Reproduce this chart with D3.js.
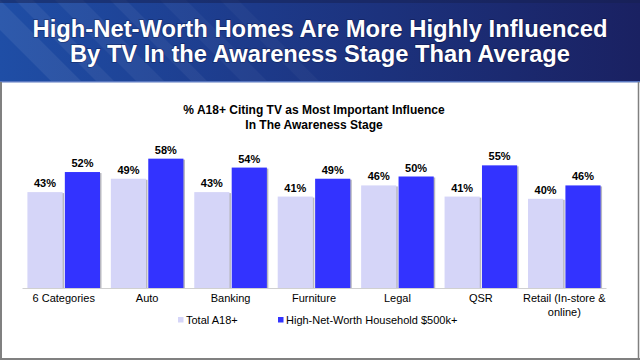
<!DOCTYPE html>
<html><head><meta charset="utf-8">
<script src="https://cdn.jsdelivr.net/npm/d3@7"></script>
<style>body{margin:0;background:#fff}svg{display:block}</style>
</head><body>
<svg id="c" width="640" height="360"></svg>
<script>
const categories = ["6 Categories","Auto","Banking","Furniture","Legal","QSR","Retail (In-store & online)"];
const categoryLines = [["6 Categories"],["Auto"],["Banking"],["Furniture"],["Legal"],["QSR"],["Retail (In-store &","online)"]];
const seriesNames = ["Total A18+","High-Net-Worth Household $500k+"];
const totalA18 = [43,49,43,41,46,41,40];
const highNetWorth = [52,58,54,49,50,55,46];
const titleLines = ["High-Net-Worth Homes Are More Highly Influenced","By TV In the Awareness Stage Than Average"];
const subtitleLines = ["% A18+ Citing TV as Most Important Influence","In The Awareness Stage"];
const colors = ["#d5d5f8","#3333ff"];

const svg = d3.select("#c");
const defs = svg.append("defs");
const g1 = defs.append("linearGradient").attr("id","hdr").attr("x1","0").attr("x2","1").attr("y1","0").attr("y2","0");
g1.append("stop").attr("offset","0").attr("stop-color","#1f4ea6");
g1.append("stop").attr("offset","0.4").attr("stop-color","#1d3a8a");
g1.append("stop").attr("offset","1").attr("stop-color","#1a2162");

// header
svg.append("rect").attr("x",0).attr("y",0).attr("width",640).attr("height",82).attr("fill","url(#hdr)");
const streaks = [[-30,30,0.07],[15,18,0.06],[55,28,0.05],[110,16,0.05],[160,26,0.04],[220,18,0.03]];
streaks.forEach(s=>{
  svg.append("polygon")
    .attr("points",`${s[0]},0 ${s[0]+s[1]},0 ${s[0]+s[1]+82},82 ${s[0]+82},82`)
    .attr("fill","#ffffff").attr("opacity",s[2]);
});
svg.append("rect").attr("x",0).attr("y",0).attr("width",640).attr("height",3).attr("fill","#152050").attr("opacity",0.5);
svg.append("rect").attr("x",0).attr("y",81).attr("width",640).attr("height",1.5).attr("fill","#5a78c0");

// panel borders
svg.append("line").attr("x1",1).attr("x2",1).attr("y1",82).attr("y2",360).attr("stroke","#808080").attr("stroke-width",2);
svg.append("line").attr("x1",638.5).attr("x2",638.5).attr("y1",82).attr("y2",360).attr("stroke","#808080").attr("stroke-width",1.5);
svg.append("line").attr("x1",0).attr("x2",640).attr("y1",359).attr("y2",359).attr("stroke","#808080").attr("stroke-width",2);

// title
const titleWidths = [575,500];
svg.append("g").selectAll("text").data(titleLines).join("text")
  .attr("x",320).attr("y",(d,i)=>37+i*25)
  .attr("text-anchor","middle").attr("fill","#fff")
  .attr("font-family","'Liberation Sans',Arial,sans-serif")
  .attr("font-weight","bold").attr("font-size",23.5)
  .attr("textLength",(d,i)=>titleWidths[i]).attr("lengthAdjust","spacingAndGlyphs")
  .style("paint-order","stroke").attr("stroke","rgba(0,0,30,0.35)").attr("stroke-width",1.5)
  .text(d=>d);

// subtitle
svg.append("g").selectAll("text").data(subtitleLines).join("text")
  .attr("x",314).attr("y",(d,i)=>114+i*14.5)
  .attr("text-anchor","middle").attr("fill","#000")
  .attr("font-family","'Liberation Sans',Arial,sans-serif")
  .attr("font-weight","bold").attr("font-size",12)
  .text(d=>d);

const x0 = d3.scaleBand().domain(categories).range([22,606]).paddingInner(0.13).paddingOuter(0.065);
const x1 = d3.scaleBand().domain(seriesNames).range([0,x0.bandwidth()]).paddingInner(0.06);
const y = d3.scaleLinear().domain([0,100]).range([288,65]);

const data = categories.map((c,i)=>({cat:c, vals:[totalA18[i],highNetWorth[i]]}));
const groups = svg.append("g").selectAll("g").data(data).join("g")
  .attr("transform",d=>`translate(${x0(d.cat)},0)`);

groups.each(function(d){
  const g = d3.select(this);
  d.vals.forEach((v,j)=>{
    const bx = x1(seriesNames[j]);
    g.append("rect").attr("x",bx+1.5).attr("y",y(v)+1).attr("width",x1.bandwidth()).attr("height",y(0)-y(v)-1)
      .attr("fill","#b8b8c0");
    g.append("rect").attr("x",bx).attr("y",y(v)).attr("width",x1.bandwidth()).attr("height",y(0)-y(v))
      .attr("fill",colors[j]);
    g.append("text").attr("x",bx+x1.bandwidth()/2).attr("y",y(v)-5)
      .attr("text-anchor","middle").attr("font-family","'Liberation Sans',Arial,sans-serif")
      .attr("font-weight","bold").attr("font-size",11).attr("fill","#000")
      .text(v+"%");
  });
});

// axis
const axis = svg.append("g").attr("transform","translate(0,288)")
  .call(d3.axisBottom(x0).tickSize(0).tickFormat(""));
axis.select(".domain").attr("stroke","#d0d0d0").attr("stroke-width",1);
axis.selectAll(".tick").each(function(d,i){
  const t = d3.select(this).append("text").attr("fill","#000")
    .attr("font-family","'Liberation Sans',Arial,sans-serif").attr("font-size",11)
    .attr("text-anchor","middle");
  categoryLines[i].forEach((ln,k)=>{
    t.append("tspan").attr("x",0).attr("y",14+k*14).text(ln);
  });
});

// legend
const legX = [178,278];
seriesNames.forEach((s,j)=>{
  svg.append("rect").attr("x",legX[j]).attr("y",317).attr("width",5.5).attr("height",5.5).attr("fill",colors[j]);
  svg.append("text").attr("x",legX[j]+8).attr("y",324).attr("font-family","'Liberation Sans',Arial,sans-serif")
    .attr("font-size",11).attr("fill","#000").text(s);
});
</script>
</body></html>
